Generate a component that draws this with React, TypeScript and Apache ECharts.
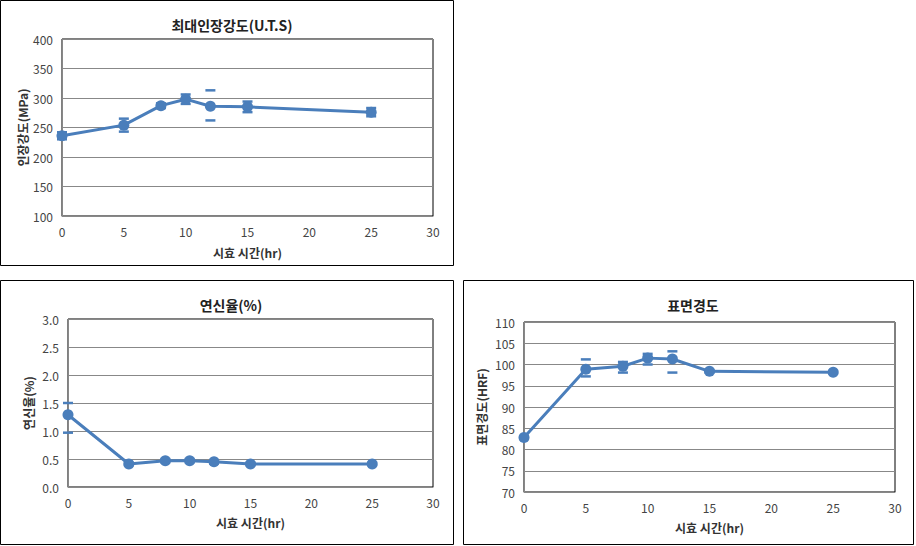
import React, { useEffect, useRef } from "react";
import * as echarts from "echarts";

const hours = [0, 5, 8, 10, 12, 15, 25];

const utsValues = [236, 254, 287, 298, 286, 285, 276];
const utsErrPlus = [6, 11, 4, 8, 27, 9, 7];
const utsErrMinus = [6, 11, 4, 8, 24, 9, 7];

const elongValues = [1.29, 0.41, 0.47, 0.47, 0.45, 0.41, 0.41];
const elongErrPlus = [0.21, 0.02, 0.03, 0.03, 0.03, 0.02, 0.02];
const elongErrMinus = [0.32, 0.02, 0.03, 0.03, 0.03, 0.02, 0.02];

const hardValues = [82.8, 98.9, 99.6, 101.5, 101.3, 98.4, 98.2];
const hardErrPlus = [0.3, 2.3, 1.0, 1.0, 1.8, 0.3, 0.3];
const hardErrMinus = [0.3, 1.7, 1.5, 1.5, 3.2, 0.3, 0.3];

const titles = ["최대인장강도(U.T.S)", "연신율(%)", "표면경도"];
const yNames = ["인장강도(MPa)", "연신율(%)", "표면경도(HRF)"];
const xName = "시효 시간(hr)";

const FONT = "'Noto Sans CJK KR', 'Noto Sans', sans-serif";
const BLUE = "#4a7ebb";

export default function App() {
  const ref = useRef<HTMLDivElement>(null);
  useEffect(() => {
    if (!ref.current) return;
    const chart = echarts.init(ref.current, undefined, { renderer: "svg" });

    const grids = [
      { left: 62, top: 39, width: 371, height: 177 },
      { left: 68, top: 319, width: 365, height: 168 },
      { left: 524, top: 322, width: 371, height: 170 },
    ];
    const yCfg = [
      { min: 100, max: 400, interval: 50, fmt: (v: number) => String(v), gap: 34 },
      { min: 0, max: 3, interval: 0.5, fmt: (v: number) => v.toFixed(1), gap: 34 },
      { min: 70, max: 110, interval: 5, fmt: (v: number) => String(v), gap: 37 },
    ];
    const xGaps = [30, 29, 29];
    const datasets = [
      [utsValues, utsErrPlus, utsErrMinus],
      [elongValues, elongErrPlus, elongErrMinus],
      [hardValues, hardErrPlus, hardErrMinus],
    ];

    const series: any[] = [];
    datasets.forEach(([vals, ep, em], i) => {
      series.push({
        type: "custom",
        xAxisIndex: i,
        yAxisIndex: i,
        z: 1,
        silent: true,
        data: hours.map((h, k) => [h, vals[k] + ep[k], vals[k] - em[k]]),
        renderItem: (params: any, api: any) => {
          const x = api.value(0);
          const hi = api.coord([x, api.value(1)]);
          const lo = api.coord([x, api.value(2)]);
          const hw = 5;
          const style = { stroke: BLUE, lineWidth: 2.5 };
          return {
            type: "group",
            children: [
              { type: "line", shape: { x1: hi[0] - hw, y1: hi[1], x2: hi[0] + hw, y2: hi[1] }, style },
              { type: "line", shape: { x1: lo[0] - hw, y1: lo[1], x2: lo[0] + hw, y2: lo[1] }, style },
            ],
          };
        },
      });
      series.push({
        type: "line",
        xAxisIndex: i,
        yAxisIndex: i,
        z: 3,
        data: hours.map((h, k) => [h, vals[k]]),
        symbol: "circle",
        symbolSize: 11,
        lineStyle: { color: BLUE, width: 3 },
        itemStyle: { color: BLUE },
      });
    });

    chart.setOption({
      animation: false,
      backgroundColor: "#fff",
      textStyle: { fontFamily: FONT },
      title: [
        { text: titles[0], left: 227, top: 13, textAlign: "center" },
        { text: titles[1], left: 226, top: 293, textAlign: "center" },
        { text: titles[2], left: 688, top: 293, textAlign: "center" },
      ].map((t) => ({
        ...t,
        textStyle: { fontFamily: FONT, fontSize: 14, fontWeight: "bold", color: "#222" },
      })),
      grid: grids.map((g) => ({ ...g, show: true, borderColor: "#000", borderWidth: 1, backgroundColor: "transparent" })),
      xAxis: grids.map((_, i) => ({
        type: "value",
        gridIndex: i,
        min: 0,
        max: 30,
        interval: 5,
        name: xName,
        nameLocation: "middle",
        nameGap: xGaps[i],
        nameTextStyle: { fontFamily: FONT, fontSize: 12, fontWeight: "bold", color: "#333" },
        axisLine: { show: true, onZero: false, lineStyle: { color: "#888", width: 1 } },
        axisTick: { show: false },
        splitLine: { show: false },
        axisLabel: { margin: 9, fontSize: 12, color: "#444", fontFamily: FONT },
      })),
      yAxis: grids.map((_, i) => ({
        type: "value",
        gridIndex: i,
        min: yCfg[i].min,
        max: yCfg[i].max,
        interval: yCfg[i].interval,
        name: yNames[i],
        nameLocation: "middle",
        nameGap: yCfg[i].gap,
        nameRotate: 90,
        nameTextStyle: { fontFamily: FONT, fontSize: 12, fontWeight: "bold", color: "#333" },
        axisLine: { show: true, lineStyle: { color: "#888", width: 1 } },
        axisTick: { show: false },
        splitLine: { show: true, lineStyle: { color: "#888", width: 1 } },
        axisLabel: { margin: 9, fontSize: 12, color: "#444", fontFamily: FONT, formatter: yCfg[i].fmt },
      })),
      graphic: [
        { type: "rect", shape: { x: 0.5, y: 0.5, width: 453, height: 265 }, style: { fill: "none", stroke: "#000", lineWidth: 1 }, silent: true },
        { type: "rect", shape: { x: 0.5, y: 280.5, width: 453, height: 264 }, style: { fill: "none", stroke: "#000", lineWidth: 1 }, silent: true },
        { type: "rect", shape: { x: 463.5, y: 280.5, width: 450, height: 264 }, style: { fill: "none", stroke: "#000", lineWidth: 1 }, silent: true },
      ],
      series,
    });
    return () => chart.dispose();
  }, []);
  return (
    <div
      ref={ref}
      style={{ position: "absolute", left: 0, top: 0, width: 916, height: 546, background: "#fff" }}
    />
  );
}
